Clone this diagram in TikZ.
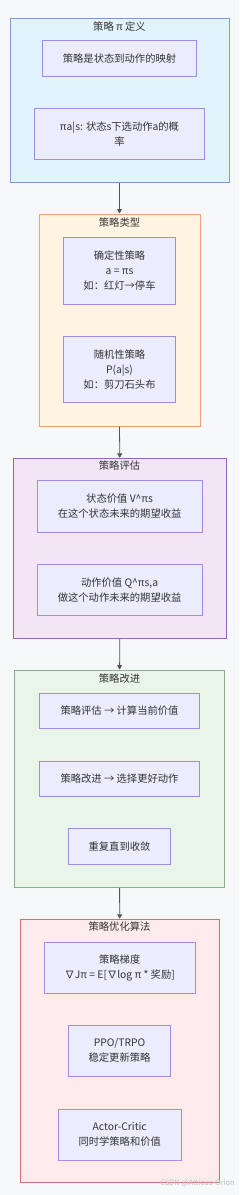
\documentclass[tikz,border=0pt]{standalone}
\usepackage{fontspec}
\setmainfont{Noto Sans CJK SC}
\usetikzlibrary{arrows.meta}
\definecolor{bg}{HTML}{F7F8FA}
\definecolor{txt}{HTML}{333333}
\definecolor{nfill}{HTML}{ECECFF}
\definecolor{nborder}{HTML}{A48BE0}
\definecolor{c1f}{HTML}{E1F4FD}
\definecolor{c1b}{HTML}{7A9ECF}
\definecolor{c2f}{HTML}{FFF3E2}
\definecolor{c2b}{HTML}{EDA07E}
\definecolor{c3f}{HTML}{F3E5F5}
\definecolor{c3b}{HTML}{9466C4}
\definecolor{c4f}{HTML}{E9F5E8}
\definecolor{c4b}{HTML}{8CAE86}
\definecolor{c5f}{HTML}{FDEBEC}
\definecolor{c5b}{HTML}{D37173}
\definecolor{arrowc}{HTML}{555555}
\begin{document}
\begin{tikzpicture}[x=1pt,y=-1pt,
  box/.style={draw=nborder, fill=nfill, line width=0.9pt, text=txt,
    font=\fontsize{10.3}{15}\selectfont, align=center, inner sep=0pt},
  cluster/.style={line width=1pt, inner sep=0pt},
  ctitle/.style={text=txt, font=\fontsize{10.3}{12}\selectfont, inner sep=0pt},
  arr/.style={draw=arrowc, line width=0.8pt, -{Triangle[length=4.5pt,width=5pt]}}
]
\fill[bg] (0,0) rectangle (239,1195);
\useasboundingbox (0,0) rectangle (239,1195);

% cluster 1
\node[cluster, draw=c1b, fill=c1f, minimum width=219pt, minimum height=164pt] (c1) at (119.5,100) {};
\node[ctitle] (t1) at (119.5,27) {策略 π 定义};
\node[box, minimum width=154pt, minimum height=36pt] (n1) at (119.5,58.3) {策略是状态到动作的映射};
\node[box, minimum width=169.5pt, minimum height=51pt] (n2) at (119.5,133.8) {πa|s: 状态s下选动作a的概\\率};

% cluster 2
\node[cluster, draw=c2b, fill=c2f, minimum width=161pt, minimum height=212pt] (c2) at (119.5,320) {};
\node[ctitle] (t2) at (119.5,223) {策略类型};
\node[box, minimum width=112pt, minimum height=67pt] (n3) at (119.5,270.8) {确定性策略\\a = πs\\如：红灯→停车};
\node[box, minimum width=112pt, minimum height=66.5pt] (n4) at (119.5,369.5) {随机性策略\\P(a|s)\\如：剪刀石头布};

% cluster 3
\node[cluster, draw=c3b, fill=c3f, minimum width=213.5pt, minimum height=180pt] (c3) at (119.8,548.3) {};
\node[ctitle] (t3) at (119.5,466) {策略评估};
\node[box, minimum width=165pt, minimum height=51.3pt] (n5) at (119.6,506.3) {状态价值 V\textasciicircum πs\\在这个状态未来的期望收益};
\node[box, minimum width=165pt, minimum height=51pt] (n6) at (119.6,589.8) {动作价值 Q\textasciicircum πs,a\\做这个动作未来的期望收益};

% cluster 4
\node[cluster, draw=c4b, fill=c4f, minimum width=209.3pt, minimum height=217.3pt] (c4) at (119.6,778.7) {};
\node[ctitle] (t4) at (119.5,678.5) {策略改进};
\node[box, minimum width=160.5pt, minimum height=35.4pt] (n7) at (119.5,711) {策略评估 → 计算当前价值};
\node[box, minimum width=160.5pt, minimum height=35pt] (n8) at (119.5,778.8) {策略改进 → 选择更好动作};
\node[box, minimum width=102.3pt, minimum height=35.3pt] (n9) at (119.5,846.4) {重复直到收敛};

% cluster 5
\node[cluster, draw=c5b, fill=c5f, minimum width=199.3pt, minimum height=263.5pt] (c5) at (119.7,1051) {};
\node[ctitle] (t5) at (119.5,927) {策略优化算法};
\node[box, minimum width=150.7pt, minimum height=51pt] (n10) at (119.7,967.5) {策略梯度\\∇Jπ = E[∇log π * 奖励]};
\node[box, minimum width=102.3pt, minimum height=51pt] (n11) at (119.5,1050.8) {PPO/TRPO\\稳定更新策略};
\node[box, minimum width=122.7pt, minimum height=51pt] (n12) at (119.7,1134.5) {Actor-Critic\\同时学策略和价值};

% connectors
\draw[arr] (c1.south) -- (c2.north);
\draw[arr] (c2.south) -- (c3.north);
\draw[arr] (c3.south) -- (c4.north);
\draw[arr] (c4.south) -- (c5.north);

% watermark
\node[text=black!25, font=\fontsize{7.5}{9}\selectfont, inner sep=0pt, anchor=east] (wm) at (235,1183.5) {CSDN @Atticus-Orion};
\end{tikzpicture}
\end{document}
